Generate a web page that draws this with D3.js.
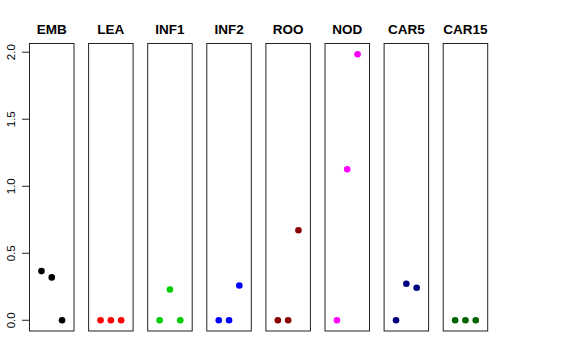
<!DOCTYPE html>
<html lang="en">
<head>
  <meta charset="UTF-8">
  <script src="https://d3js.org/d3.v7.min.js"></script>
  <title>Panel dot chart</title>
  <style>
    body { margin: 0; background: white; font-family: "Liberation Sans", Arial, sans-serif; }
  </style>
</head>
<body>
<script>
  // Chart data
  const panels = ["EMB", "LEA", "INF1", "INF2", "ROO", "NOD", "CAR5", "CAR15"];
  const colors = ["#000000", "#FF0000", "#00CD00", "#0000FF", "#8B0000", "#FF00FF", "#000080", "#006400"];
  const values = [
    [0.367, 0.32, 0],
    [0, 0, 0],
    [0, 0.23, 0],
    [0, 0, 0.26],
    [0, 0, 0.672],
    [0, 1.127, 1.985],
    [0, 0.273, 0.243],
    [0, 0, 0]
  ];
  const yTicks = [0, 0.5, 1, 1.5, 2];

  const width = 576, height = 360;
  const svg = d3.select("body").append("svg")
    .attr("width", width)
    .attr("height", height);

  // panel layout
  const panelLeft = 29.5, panelW = 44.5, panelStep = 59.1;
  const plotTop = 43.5, plotBottom = 331;

  const y = d3.scaleLinear().domain([-0.08, 2.065]).range([plotBottom, plotTop]);
  const x = d3.scaleLinear().domain([-0.16, 4.16]).range([0, panelW]);

  panels.forEach((name, i) => {
    const g = svg.append("g")
      .attr("transform", `translate(${panelLeft + i * panelStep},0)`);

    g.append("rect")
      .attr("x", 0).attr("y", plotTop)
      .attr("width", panelW).attr("height", plotBottom - plotTop)
      .attr("fill", "none")
      .attr("stroke", "#222")
      .attr("stroke-width", 1);

    g.append("text")
      .attr("x", panelW / 2).attr("y", 33.5)
      .attr("text-anchor", "middle")
      .attr("font-size", 13.5)
      .attr("font-weight", "bold")
      .text(name);

    g.selectAll("circle")
      .data(values[i])
      .enter().append("circle")
      .attr("cx", (d, j) => x(j + 1))
      .attr("cy", d => y(d))
      .attr("r", 3.3)
      .attr("fill", colors[i]);
  });

  // y axis on the first panel
  const axis = svg.append("g");
  axis.append("line")
    .attr("x1", panelLeft).attr("x2", panelLeft)
    .attr("y1", y(0)).attr("y2", y(2))
    .attr("stroke", "#222");
  yTicks.forEach(t => {
    axis.append("line")
      .attr("x1", panelLeft - 7.5).attr("x2", panelLeft)
      .attr("y1", y(t)).attr("y2", y(t))
      .attr("stroke", "#222");
    axis.append("text")
      .attr("transform", `translate(15,${y(t)}) rotate(-90)`)
      .attr("text-anchor", "middle")
      .attr("font-size", 11.5)
      .text(d3.format(".1f")(t));
  });
</script>
</body>
</html>
